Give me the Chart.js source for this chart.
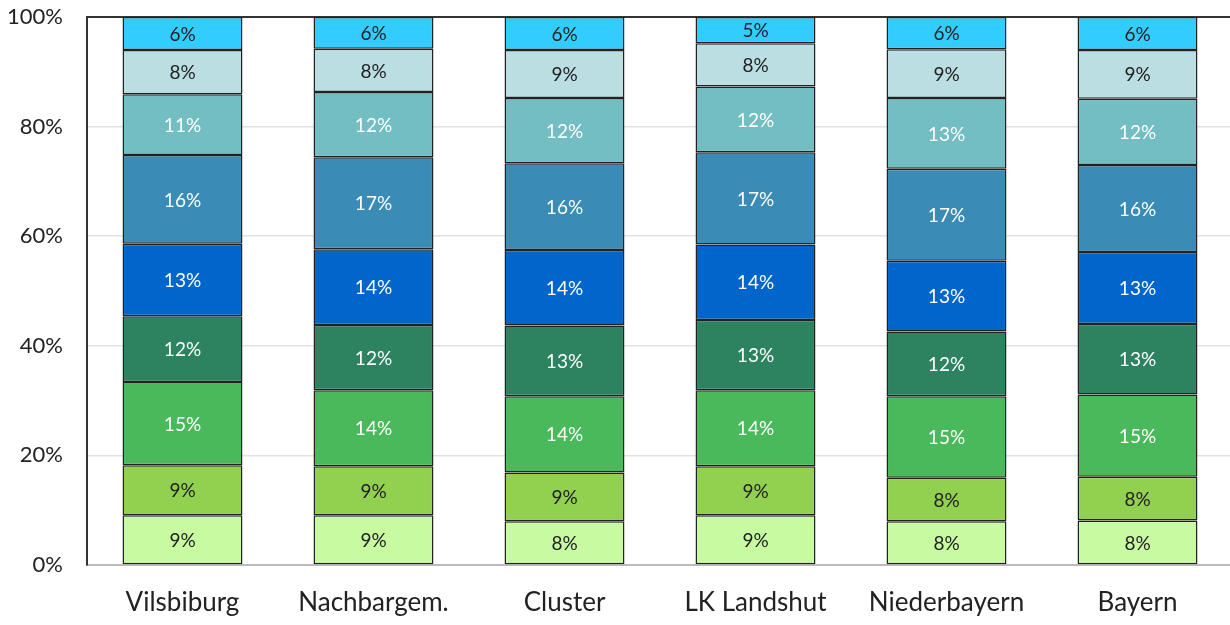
<!DOCTYPE html>
<html>
<head>
<meta charset="utf-8">
<script src="https://cdn.jsdelivr.net/npm/chart.js@4"></script>
<style>
  html, body { margin: 0; padding: 0; background: #fff; overflow: hidden; }
  #wrap { width: 1233px; height: 625px; position: relative; }
</style>
</head>
<body>
<div id="wrap"><canvas id="grafico"></canvas></div>
<script>
const categorias = ['Vilsbiburg', 'Nachbargem.', 'Cluster', 'LK Landshut', 'Niederbayern', 'Bayern'];

// Anteile je Segment, von unten nach oben
const serie1 = [9.1, 9.1, 8.0, 9.1, 8.0, 8.1];
const serie2 = [9.1, 8.9, 8.9, 8.9, 7.9, 8.0];
const serie3 = [15.2, 13.9, 13.9, 13.9, 14.9, 15.0];
const serie4 = [12.0, 11.9, 12.9, 12.8, 11.8, 12.9];
const serie5 = [13.2, 13.8, 13.8, 13.8, 12.9, 13.1];
const serie6 = [16.2, 16.8, 15.8, 16.8, 16.8, 15.9];
const serie7 = [11.1, 11.9, 11.9, 12.0, 12.9, 12.1];
const serie8 = [8.1, 7.9, 8.8, 7.9, 8.9, 8.9];
const serie9 = [6.0, 5.8, 6.0, 4.8, 5.9, 6.0];

const yTicks = [0, 20, 40, 60, 80, 100];

const series = [serie1, serie2, serie3, serie4, serie5, serie6, serie7, serie8, serie9];
const cores = ['#C8FAA2', '#92D050', '#4AB95C', '#2D8360', '#0066CC', '#3A8BB6', '#72BEC3', '#BADEE2', '#33CCFF'];
const corTexto = ['#222', '#222', '#fff', '#fff', '#fff', '#fff', '#fff', '#222', '#222'];

const fonte = 'Lato, "Open Sans", sans-serif';

const rotulos = {
    id: 'rotulos',
    afterDatasetsDraw(chart) {
        const ctx = chart.ctx;
        ctx.save();
        ctx.font = '19px ' + fonte;
        ctx.textAlign = 'center';
        ctx.textBaseline = 'middle';
        chart.data.datasets.forEach((ds, i) => {
            const meta = chart.getDatasetMeta(i);
            meta.data.forEach((bar, j) => {
                ctx.fillStyle = corTexto[i];
                ctx.fillText(Math.round(ds.data[j]) + '%', bar.x, (bar.y + bar.base) / 2 + 1);
            });
        });
        ctx.restore();
    }
};

new Chart(document.getElementById('grafico'), {
    type: 'bar',
    data: {
        labels: categorias,
        datasets: series.map((s, i) => ({
            label: 'S' + (i + 1),
            data: s,
            backgroundColor: cores[i],
            borderColor: '#222',
            borderWidth: 1.5,
            borderSkipped: false,
            barPercentage: 0.628,
            categoryPercentage: 1
        }))
    },
    options: {
        responsive: true,
        maintainAspectRatio: false,
        animation: false,
        layout: { padding: 0 },
        plugins: {
            legend: { display: false },
            tooltip: { enabled: false }
        },
        scales: {
            x: {
                stacked: true,
                grid: { display: false },
                border: { color: '#bbb', width: 2 },
                ticks: { color: '#222', font: { size: 26, family: fonte }, padding: 14 },
                afterFit(scale) { scale.height = 60; }
            },
            y: {
                stacked: true,
                min: 0,
                max: 100,
                afterBuildTicks(scale) { scale.ticks = yTicks.map(v => ({ value: v })); },
                grid: {
                    color: c => c.tick.value === 100 ? '#333' : '#e2e2e2',
                    lineWidth: c => c.tick.value === 100 ? 2 : 1.5,
                    drawTicks: false
                },
                border: { color: '#333', width: 2 },
                ticks: {
                    color: '#222',
                    font: { size: 22, family: fonte },
                    padding: 24,
                    callback: v => v + '%'
                },
                afterFit(scale) {
                    scale.width = 87;
                    scale.paddingTop = 17;
                    scale.paddingBottom = 0;
                }
            }
        }
    },
    plugins: [rotulos]
});
</script>
</body>
</html>
